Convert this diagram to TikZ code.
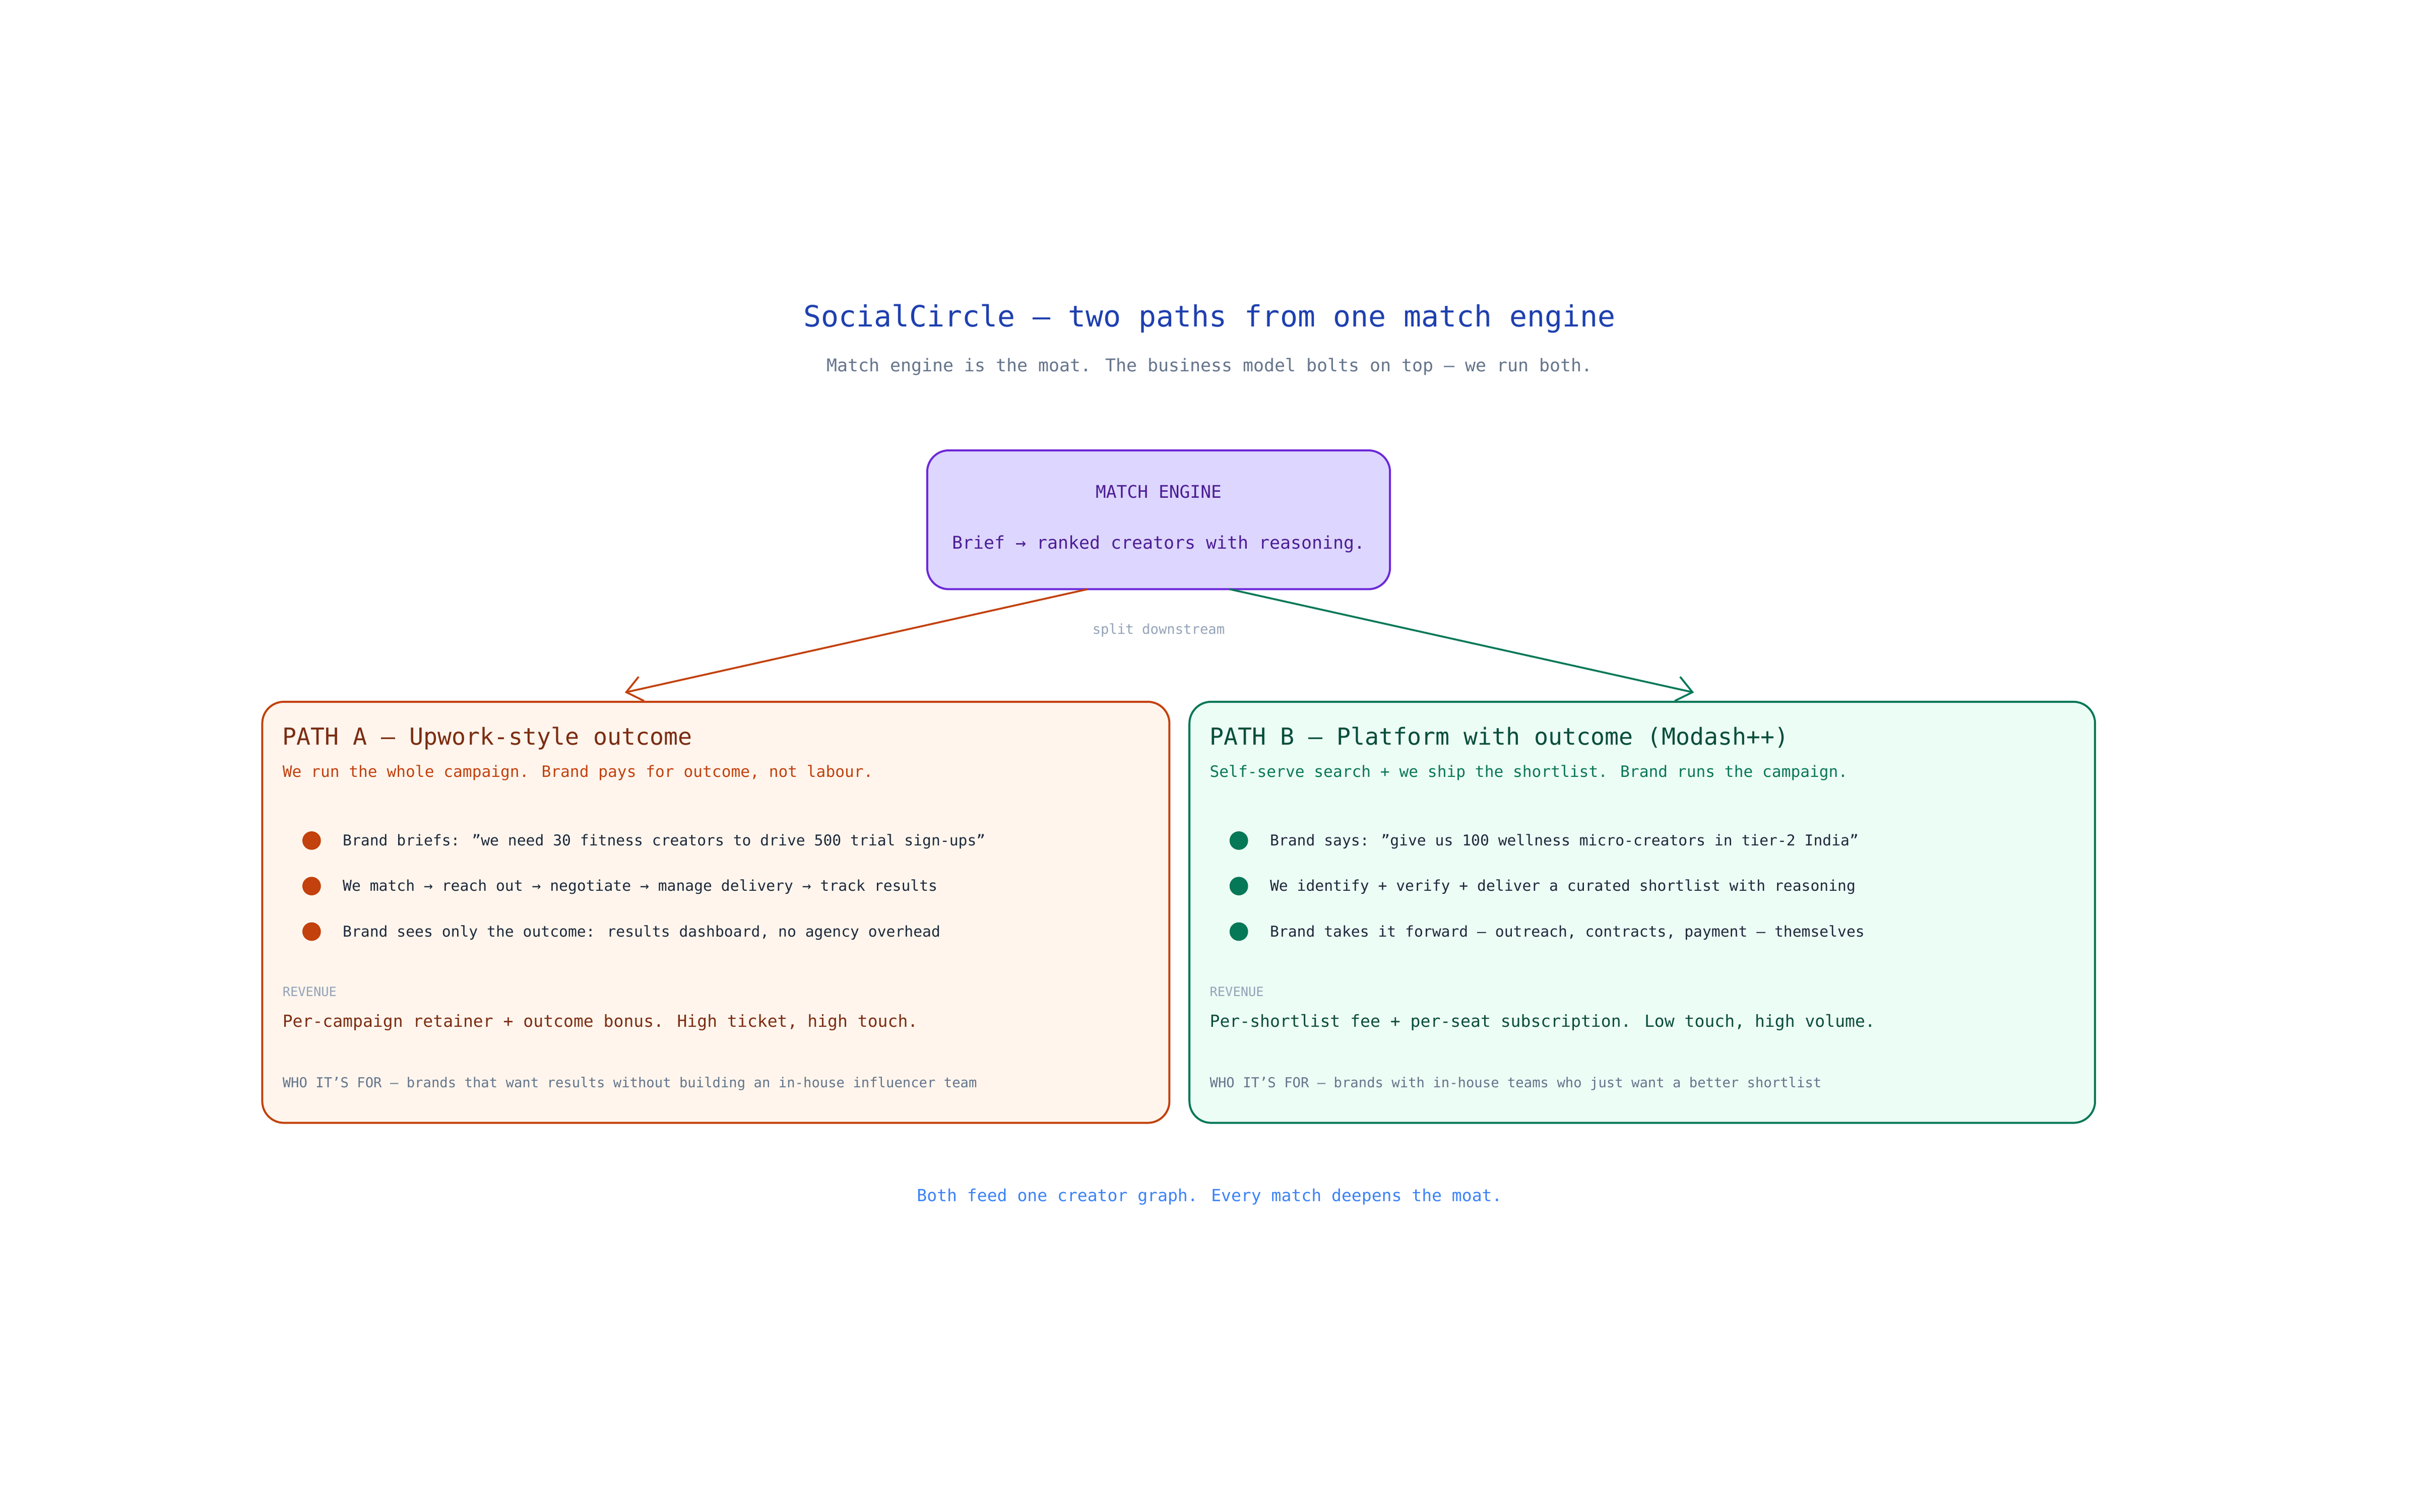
\documentclass[tikz,border=0pt]{standalone}
\usepackage{fontspec}
\setmainfont{DejaVu Sans Mono}
\usetikzlibrary{arrows.meta}
\definecolor{pstroke}{HTML}{6D28D9}\definecolor{pfill}{HTML}{DDD6FE}\definecolor{ptext}{HTML}{4C1D95}
\definecolor{astroke}{HTML}{C2410C}\definecolor{afill}{HTML}{FFF5EC}\definecolor{ahead}{HTML}{7C2D12}
\definecolor{bstroke}{HTML}{047857}\definecolor{bfill}{HTML}{ECFDF5}\definecolor{bhead}{HTML}{064E3B}
\definecolor{titlec}{HTML}{1E40AF}\definecolor{subc}{HTML}{64748B}\definecolor{mutec}{HTML}{94A3B8}
\definecolor{bodyc}{HTML}{1E293B}\definecolor{footc}{HTML}{3B82F6}
\tikzset{
 card/.style={draw=#1, line width=1.3pt, rounded corners=14pt},
 txt/.style={anchor=base west, inner sep=0pt},
 ctxt/.style={anchor=base, inner sep=0pt},
 conn/.style={line width=1.2pt, -{Straight Barb[length=10pt,width=16pt,line width=1.2pt]}},
 dot/.style={circle, fill=#1, minimum size=12pt, inner sep=0pt},
}
\begin{document}
\begin{tikzpicture}[x=1pt,y=-1pt]
\useasboundingbox (0,0) rectangle (1568,980);
\node[ctxt, text=titlec, font=\fontsize{19}{22}\selectfont] (title) at (784,212) {SocialCircle — two paths from one match engine};
\node[ctxt, text=subc, font=\fontsize{11.4}{13}\selectfont] (sub) at (784,241) {Match engine is the moat. The business model bolts on top — we run both.};
% match engine
\path[card=pstroke, fill=pfill] (601,292) rectangle (901,382);
\node[draw=none, minimum width=300pt, minimum height=90pt, inner sep=0pt] (me) at (751,337) {};
\node[ctxt, text=ptext, font=\fontsize{11.3}{13}\selectfont] (metitle) at (751,323) {MATCH ENGINE};
\node[ctxt, text=ptext, font=\fontsize{11.4}{13}\selectfont] (meline) at (751,356) {Brief → ranked creators with reasoning.};
% path A
\path[card=astroke, fill=afill] (170,455) rectangle (758,728);
\coordinate (atop) at (405,449);
\coordinate (ao) at (705,382);
\node[txt, text=ahead, font=\fontsize{15.2}{18}\selectfont] (ah) at (183,483) {PATH A — Upwork-style outcome};
\node[txt, text=astroke, font=\fontsize{10.2}{12}\selectfont] (as) at (183,504) {We run the whole campaign. Brand pays for outcome, not labour.};
\foreach \y/\t [count=\i] in {545/{Brand briefs: "we need 30 fitness creators to drive 500 trial sign-ups"},574.5/{We match → reach out → negotiate → manage delivery → track results},604/{Brand sees only the outcome: results dashboard, no agency overhead}}{
 \node[dot=astroke] (adot\i) at (202,\y) {};
 \node[txt, text=bodyc, font=\fontsize{9.7}{12}\selectfont] (ab\i) at (222,\y+3.3) {\t};
}
\node[txt, text=mutec, font=\fontsize{8.3}{10}\selectfont] (arev) at (183,646) {REVENUE};
\node[txt, text=ahead, font=\fontsize{10.8}{13}\selectfont] (arl) at (183,666) {Per-campaign retainer + outcome bonus. High ticket, high touch.};
\node[txt, text=subc, font=\fontsize{8.9}{11}\selectfont] (awho) at (183,705) {WHO IT'S FOR — brands that want results without building an in-house influencer team};
% path B
\path[card=bstroke, fill=bfill] (771,455) rectangle (1358,728);
\coordinate (btop) at (1098,449);
\coordinate (bo) at (797,382);
\node[txt, text=bhead, font=\fontsize{15.2}{18}\selectfont] (bh) at (784,483) {PATH B — Platform with outcome (Modash++)};
\node[txt, text=bstroke, font=\fontsize{10.2}{12}\selectfont] (bs) at (784,504) {Self-serve search + we ship the shortlist. Brand runs the campaign.};
\foreach \y/\t [count=\i] in {545/{Brand says: "give us 100 wellness micro-creators in tier-2 India"},574.5/{We identify + verify + deliver a curated shortlist with reasoning},604/{Brand takes it forward — outreach, contracts, payment — themselves}}{
 \node[dot=bstroke] (bdot\i) at (803,\y) {};
 \node[txt, text=bodyc, font=\fontsize{9.7}{12}\selectfont] (bb\i) at (823,\y+3.3) {\t};
}
\node[txt, text=mutec, font=\fontsize{8.3}{10}\selectfont] (brev) at (784,646) {REVENUE};
\node[txt, text=bhead, font=\fontsize{10.8}{13}\selectfont] (brl) at (784,666) {Per-shortlist fee + per-seat subscription. Low touch, high volume.};
\node[txt, text=subc, font=\fontsize{8.9}{11}\selectfont] (bwho) at (784,705) {WHO IT'S FOR — brands with in-house teams who just want a better shortlist};
% connectors
\draw[conn, draw=astroke] (ao) -- (atop);
\draw[conn, draw=bstroke] (bo) -- (btop);
\node[ctxt, text=mutec, font=\fontsize{8.9}{11}\selectfont] (split) at (751,411) {split downstream};
\node[ctxt, text=footc, font=\fontsize{10.8}{13}\selectfont] (foot) at (784,779) {Both feed one creator graph. Every match deepens the moat.};
\end{tikzpicture}
\end{document}
